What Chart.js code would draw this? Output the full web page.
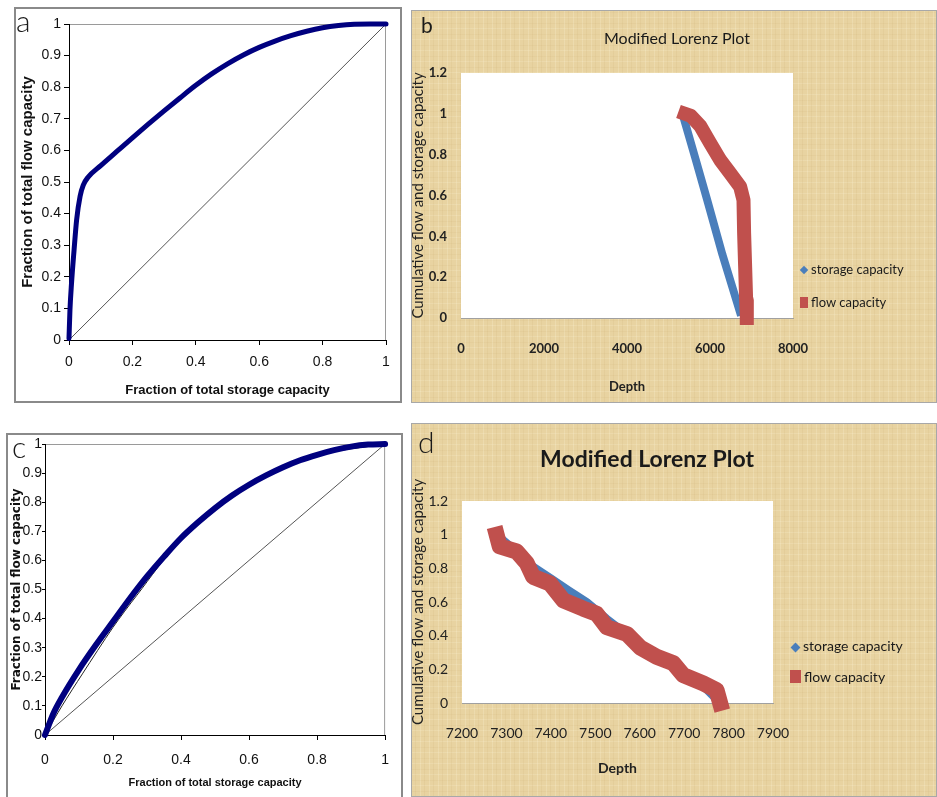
<!DOCTYPE html>
<html>
<head>
<meta charset="utf-8">
<title>Lorenz plots</title>
<script src="https://cdn.jsdelivr.net/npm/chart.js@4.4.1/dist/chart.umd.min.js"></script>
<style>
  body { margin: 0; background: #fff; }
  #page { position: relative; width: 937px; height: 797px; overflow: hidden; background: #fff; }
  .box { position: absolute; box-sizing: border-box; }
  .frame { border: 2px solid #8a8a8a; background: #fff; }
  .paper {
    outline: 1px solid #a8a8a8; outline-offset: -1px;
    background-color: #e8d3a1;
    background-image:
      repeating-linear-gradient(90deg, rgba(255,250,225,0.2) 0px, rgba(255,250,225,0.2) 1px, transparent 1px, transparent 4px, rgba(170,130,60,0.07) 4px, rgba(170,130,60,0.07) 5px, transparent 5px, transparent 9px),
      repeating-linear-gradient(0deg, rgba(255,250,225,0.16) 0px, rgba(255,250,225,0.16) 1px, transparent 1px, transparent 5px, rgba(170,130,60,0.06) 5px, rgba(170,130,60,0.06) 6px, transparent 6px, transparent 11px);
  }
  .box canvas { position: absolute; left: 0; top: 0; }
  .txt { position: absolute; font-family: Lato, 'Open Sans', sans-serif; color: #1a1a1a; line-height: 1; white-space: nowrap; }
  .letter { font-size: 30px; font-weight: 300; }
  .mark { position: absolute; }
</style>
</head>
<body>
<div id="page">
  <div class="box frame" style="left:14px; top:7px; width:388px; height:396px;">
    <canvas id="chartA" width="384" height="392"></canvas>
  </div>
  <div class="box paper" style="left:411px; top:10px; width:526px; height:393px;">
    <canvas id="chartB" width="526" height="393"></canvas>
  </div>
  <div class="box frame" style="left:6px; top:433px; width:397px; height:366px;">
    <canvas id="chartC" width="393" height="362"></canvas>
  </div>
  <div class="box paper" style="left:411px; top:423px; width:526px; height:374px;">
    <canvas id="chartD" width="526" height="374"></canvas>
  </div>

  <div class="txt letter" style="left:16px; top:5px;">a</div>
  <div class="txt letter" style="left:421px; top:14px; font-size:21px; font-weight:400;">b</div>
  <div class="txt letter" style="left:12px; top:431px;">c</div>
  <div class="txt letter" style="left:418px; top:426px;">d</div>

  <div class="txt" style="left:527px; top:30px; width:300px; text-align:center; font-size:16px;">Modified Lorenz Plot</div>
  <div class="txt" style="left:497px; top:447px; width:300px; text-align:center; font-size:23px; font-weight:700;">Modified Lorenz Plot</div>

  <div class="mark" style="left:801px; top:267px; width:6px; height:6px; background:#4a7ebb; transform:rotate(45deg);"></div>
  <div class="txt" style="left:811px; top:263px; font-size:13px;">storage capacity</div>
  <div class="mark" style="left:800px; top:297px; width:8px; height:11px; background:#c0504d;"></div>
  <div class="txt" style="left:811px; top:296px; font-size:13px;">flow capacity</div>

  <div class="mark" style="left:792px; top:644px; width:7px; height:7px; background:#4a7ebb; transform:rotate(45deg);"></div>
  <div class="txt" style="left:803px; top:639px; font-size:14px;">storage capacity</div>
  <div class="mark" style="left:790px; top:670px; width:11px; height:13px; background:#c0504d;"></div>
  <div class="txt" style="left:804px; top:670px; font-size:14px;">flow capacity</div>
</div>

<script>
// panel a : Lorenz plot
const aStorage = [0, 0.003, 0.008, 0.016, 0.024, 0.035, 0.045, 0.06, 0.1, 0.15, 0.2, 0.25, 0.3, 0.35, 0.4, 0.45, 0.5, 0.55, 0.6, 0.65, 0.7, 0.75, 0.8, 0.85, 0.9, 0.95, 1.0];
const aFlow = [0.005, 0.095, 0.18, 0.285, 0.38, 0.455, 0.49, 0.515, 0.552, 0.596, 0.64, 0.683, 0.725, 0.766, 0.806, 0.842, 0.874, 0.902, 0.926, 0.946, 0.963, 0.977, 0.988, 0.995, 0.999, 1.0, 1.0];

// panel c
const cStorage = [0, 0.025, 0.05, 0.1, 0.15, 0.2, 0.25, 0.3, 0.35, 0.4, 0.45, 0.5, 0.55, 0.6, 0.65, 0.7, 0.75, 0.8, 0.85, 0.9, 0.95, 1.0];
const cFlow = [0, 0.075, 0.13, 0.225, 0.31, 0.39, 0.47, 0.545, 0.613, 0.677, 0.731, 0.78, 0.823, 0.86, 0.892, 0.92, 0.944, 0.963, 0.979, 0.991, 0.998, 1.0];
const cFitStorage = [0, 0.05, 0.11, 0.2, 0.27, 0.4, 0.6, 0.8, 1.0];
const cFitFlow = [0, 0.1, 0.21, 0.37, 0.48, 0.67, 0.855, 0.96, 1.0];

// homogeneous line
const diagX = [0, 1];
const diagY = [0, 1];

// panel b : modified Lorenz plot
const bStorageDepth = [5380, 5650, 5930, 6300, 6720];
const bStorageValue = [0.97, 0.78, 0.58, 0.31, 0.03];
const bFlowDepth = [5400, 5540, 5766, 6006, 6246, 6486, 6727, 6807, 6822, 6847, 6871, 6887];
const bFlowValue = [1.0, 0.99, 0.94, 0.856, 0.774, 0.709, 0.643, 0.578, 0.416, 0.25, 0.088, 0.0];

// panel d
const dStorageDepth = [7278, 7323, 7360, 7400, 7440, 7481, 7526, 7600, 7676, 7743, 7781];
const dStorageValue = [1.0, 0.9, 0.81, 0.74, 0.67, 0.6, 0.5, 0.35, 0.22, 0.1, 0.0];
const dFlowDepth = [7278, 7285, 7323, 7346, 7360, 7398, 7428, 7473, 7503, 7526, 7571, 7601, 7638, 7676, 7698, 7743, 7773, 7781];
const dFlowValue = [1.0, 0.93, 0.90, 0.83, 0.75, 0.71, 0.61, 0.56, 0.53, 0.45, 0.41, 0.33, 0.275, 0.236, 0.166, 0.117, 0.077, 0.0];

const arial = "'Liberation Sans', Arial, sans-serif";
const narrow = "'Liberation Sans Narrow', 'Liberation Sans', sans-serif";
const calib = "Lato, 'Open Sans', sans-serif";

function pts(xs, ys) {
  return xs.map((x, i) => ({ x: x, y: ys[i] }));
}

// 1.0 -> "1", 0.2 -> "0.2"
const fmt = v => String(Math.round(v * 100) / 100);

// white plot area / grey frame behind the axes
const plotBg = {
  id: 'plotBg',
  beforeDraw(chart, args, opts) {
    const { ctx, chartArea } = chart;
    ctx.save();
    if (opts.fill) {
      ctx.fillStyle = opts.fill;
      ctx.fillRect(chartArea.left, chartArea.top, chartArea.width, chartArea.height);
    }
    if (opts.stroke) {
      ctx.strokeStyle = opts.stroke;
      ctx.lineWidth = 1;
      ctx.strokeRect(chartArea.left + 0.5, chartArea.top + 0.5, chartArea.width - 1, chartArea.height);
    }
    ctx.restore();
  }
};

function lorenzChart(id, curve, extra, o) {
  const sets = [
    { label: 'Flow vs storage', data: curve, showLine: true, borderColor: '#00007f', borderWidth: o.band,
      pointRadius: 0, borderJoinStyle: 'round', borderCapStyle: 'round', cubicInterpolationMode: 'monotone', clip: false }
  ];
  extra.forEach(e => sets.push(e));
  sets.push({ label: 'Homogeneous', data: pts(diagX, diagY), showLine: true, borderColor: '#555',
    borderWidth: 1, pointRadius: 0 });

  return new Chart(document.getElementById(id), {
    type: 'scatter',
    data: { datasets: sets },
    options: {
      responsive: false, animation: false, devicePixelRatio: 1,
      layout: { padding: o.pad },
      plugins: { legend: { display: false }, tooltip: { enabled: false }, plotBg: { stroke: '#9a9a9a' } },
      scales: {
        x: {
          type: 'linear', min: 0, max: 1,
          ticks: { stepSize: 0.2, padding: o.xTickPad, color: '#111', callback: fmt, font: { family: o.tickFont, size: 14 } },
          grid: { drawOnChartArea: false, color: '#000', tickLength: 5 },
          border: { color: '#000' },
          title: { display: true, text: 'Fraction of total storage capacity', color: '#111',
            font: { family: narrow, size: o.xTitleSize, weight: o.xTitleWeight }, padding: { top: 0, bottom: o.xTitlePad } },
          afterFit: s => { s.height = o.xH; }
        },
        y: {
          type: 'linear', min: 0, max: 1,
          ticks: { stepSize: 0.1, padding: o.yTickPad, color: '#111', callback: fmt, font: { family: o.tickFont, size: 14 } },
          grid: { drawOnChartArea: false, color: '#000', tickLength: o.yTick },
          border: { color: '#000' },
          title: { display: true, text: 'Fraction of total flow capacity', color: '#111',
            font: { family: o.yTitleFont, size: o.yTitleSize, weight: 'bold', lineHeight: 1 }, padding: { top: o.yTitlePad, bottom: 0 } },
          afterFit: s => { s.width = o.yW; }
        }
      }
    },
    plugins: [plotBg]
  });
}

function modifiedChart(id, storage, flow, o) {
  return new Chart(document.getElementById(id), {
    type: 'scatter',
    data: {
      datasets: [
        { label: 'storage capacity', data: storage, showLine: true, borderColor: '#4a7ebb', backgroundColor: '#4a7ebb',
          borderWidth: o.blue, pointRadius: 0, borderJoinStyle: 'round', borderCapStyle: 'square', clip: false, order: 1 },
        { label: 'flow capacity', data: flow, showLine: true, borderColor: '#c0504d', backgroundColor: '#c0504d',
          borderWidth: o.red, pointRadius: 0, borderJoinStyle: 'round', borderCapStyle: 'square', clip: false, order: 0 }
      ]
    },
    options: {
      responsive: false, animation: false, devicePixelRatio: 1,
      layout: { padding: o.pad },
      plugins: { legend: { display: false }, tooltip: { enabled: false }, plotBg: { fill: '#fff' } },
      scales: {
        x: {
          type: 'linear', min: o.xMin, max: o.xMax,
          ticks: { stepSize: o.xStep, padding: o.xTickPad, color: '#222', callback: v => String(v),
            font: { family: calib, size: o.tickSize, weight: o.tickWeight } },
          grid: { display: false, drawTicks: false },
          border: { color: '#a0a0a0' },
          title: { display: true, text: 'Depth', color: '#222',
            font: { family: calib, size: o.titleSize, weight: 'bold' }, padding: { top: 0, bottom: o.xTitlePad } },
          afterFit: s => { s.height = o.xH; }
        },
        y: {
          type: 'linear', min: 0, max: 1.2,
          ticks: { stepSize: 0.2, padding: o.yTickPad, color: '#222', callback: fmt,
            font: { family: calib, size: o.tickSize, weight: o.tickWeight } },
          grid: { display: false, drawTicks: false },
          border: { display: false },
          title: { display: true, text: 'Cumulative flow and storage capacity', color: '#222',
            font: { family: calib, size: 15, lineHeight: 1 }, padding: { top: 0, bottom: 0 } },
          afterFit: s => { s.width = o.yW; }
        }
      }
    },
    plugins: [plotBg]
  });
}

lorenzChart('chartA', pts(aStorage, aFlow), [], {
  band: 5, pad: { left: 0, top: 15, right: 14, bottom: 0 },
  xH: 61, yW: 53, xTickPad: 9, yTickPad: 3, yTick: 5, tickFont: arial,
  xTitleSize: 13, xTitleWeight: 'bold', xTitlePad: 3, yTitleFont: arial, yTitleSize: 15, yTitlePad: 4
});

lorenzChart('chartC', pts(cStorage, cFlow), [
  { label: 'Fit', data: pts(cFitStorage, cFitFlow), showLine: true, borderColor: '#222', borderWidth: 1, pointRadius: 0, tension: 0.3 }
], {
  band: 6, pad: { left: 0, top: 9, right: 6, bottom: 0 },
  xH: 62, yW: 37, xTickPad: 12, yTickPad: 0, yTick: 3, tickFont: narrow,
  xTitleSize: 11, xTitleWeight: 'bold', xTitlePad: 7, yTitleFont: "'DejaVu Sans', sans-serif", yTitleSize: 12, yTitlePad: 3
});

modifiedChart('chartB', pts(bStorageDepth, bStorageValue), pts(bFlowDepth, bFlowValue), {
  blue: 8, red: 14, pad: { left: 0, top: 63, right: 144, bottom: 0 },
  xMin: 0, xMax: 8000, xStep: 2000, xH: 85, yW: 50, xTickPad: 23, yTickPad: 14,
  tickSize: 13, tickWeight: 'bold', titleSize: 13, xTitlePad: 8
});

modifiedChart('chartD', pts(dStorageDepth, dStorageValue), pts(dFlowDepth, dFlowValue), {
  blue: 8, red: 16, pad: { left: 0, top: 78, right: 164, bottom: 0 },
  xMin: 7200, xMax: 7900, xStep: 100, xH: 94, yW: 51, xTickPad: 22, yTickPad: 14,
  tickSize: 14, tickWeight: 'normal', titleSize: 14, xTitlePad: 20
});
</script>
</body>
</html>
